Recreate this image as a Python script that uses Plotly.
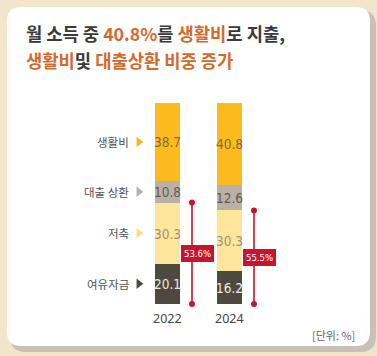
import plotly.graph_objects as go

# ---- data ----
years = ["2022", "2024"]
series_names = ["여유자금", "저축", "대출 상환", "생활비"]
spare = [20.1, 16.2]
savings = [30.3, 30.3]
loan = [10.8, 12.6]
living = [38.7, 40.8]
ratio_labels = ["53.6%", "55.5%"]
unit_label = "[단위: %]"
title_line1 = ("월 소득 중 <span style='color:#d4692b'>40.8%</span>를 "
               "<span style='color:#d4692b'>생활비</span>로 지출,")
title_line2 = ("<span style='color:#d4692b'>생활비</span>및 "
               "<span style='color:#d4692b'>대출상환 비중 증가</span>")

# ---- styles ----
W, H = 377, 356
bar_colors = {"여유자금": "#4d493f", "저축": "#fee59c", "대출 상환": "#b9b1a6", "생활비": "#fbbb1f"}
tri_colors = {"여유자금": "#4d493f", "저축": "#fddc86", "대출 상환": "#b9b1a6", "생활비": "#fbb51f"}
text_colors = {"여유자금": "#ebe7de", "저축": "#a39371", "대출 상환": "#615b52", "생활비": "#85693a"}
RED = "#c8142c"
NUM_FONT = "DejaVu Sans Condensed, Liberation Sans Narrow, Roboto, sans-serif"
KR_FONT = "Noto Sans CJK KR, Noto Sans, sans-serif"

series_values = {"여유자금": spare, "저축": savings, "대출 상환": loan, "생활비": living}
idx = list(range(len(years)))

# pixel mapping helpers (layout only)
PX_PER_X = 62.0
X0_PX = 167.5
PX_PER_Y = 201.0 / 99.9
Y0_PX = 304.0
xr = [-X0_PX / PX_PER_X, (W - X0_PX) / PX_PER_X]
yr = [-(H - Y0_PX) / PX_PER_Y, Y0_PX / PX_PER_Y]

fig = go.Figure()

for name in series_names:
    vals = series_values[name]
    fig.add_trace(go.Bar(
        x=idx, y=vals, name=name, width=25 / PX_PER_X,
        marker=dict(color=bar_colors[name], line=dict(width=0)),
        text=[f"{v:.1f}" for v in vals], textposition="inside", textangle=0,
        insidetextanchor="middle", constraintext="none",
        textfont=dict(family=NUM_FONT, size=13.5, color=text_colors[name]),
        hoverinfo="skip", showlegend=False,
    ))

# red range lines (savings + spare)
off = 0.395
for i in idx:
    top = savings[i] + spare[i]
    fig.add_trace(go.Scatter(
        x=[i + off, i + off], y=[0, top], mode="lines+markers",
        line=dict(color=RED, width=1.6), marker=dict(color=RED, size=6),
        hoverinfo="skip", showlegend=False,
    ))
    fig.add_annotation(
        x=i + off, y=top / 2, xshift=6, text=ratio_labels[i], showarrow=False,
        font=dict(family=NUM_FONT, size=9.5, color="white"),
        bgcolor=RED, bordercolor=RED, borderwidth=1, borderpad=2,
    )

# category labels with triangles (aligned to 2022 segments)
cum = 0
for name in series_names:
    v = series_values[name][0]
    center = cum + v / 2
    cum += v
    fig.add_annotation(
        x=0, y=center, xshift=-36.5, xanchor="right", text=name, showarrow=False,
        font=dict(family=KR_FONT, size=11.5, color="#505050"),
    )
    fig.add_trace(go.Scatter(
        x=[-28.7 / PX_PER_X], y=[center], mode="markers",
        marker=dict(symbol="triangle-right", size=9, color=tri_colors[name]),
        hoverinfo="skip", showlegend=False,
    ))

# year labels
for i in idx:
    fig.add_annotation(
        x=i, y=0, yanchor="top", yshift=-4, text=years[i], showarrow=False,
        font=dict(family="Noto Sans, sans-serif", size=12.5, color="#444444"),
    )

# unit label
fig.add_annotation(
    xref="paper", yref="paper", x=357 / W, y=1 - 335 / H, xanchor="right", yanchor="middle",
    text=unit_label, showarrow=False, font=dict(family=KR_FONT, size=11, color="#666666"),
)

# titles
fig.add_annotation(
    xref="paper", yref="paper", x=24 / W, y=1 - 33 / H, xanchor="left", yanchor="middle",
    text=f"<b>{title_line1}</b>", showarrow=False,
    font=dict(family=KR_FONT, size=17.7, color="#3a3a3a"),
)
fig.add_annotation(
    xref="paper", yref="paper", x=24 / W, y=1 - 60 / H, xanchor="left", yanchor="middle",
    text=f"<b>{title_line2}</b>", showarrow=False,
    font=dict(family=KR_FONT, size=17.7, color="#3a3a3a"),
)


def rounded(x0, y0, x1, y1, r):
    def P(x, y):
        return f"{x / W:.5f},{1 - y / H:.5f}"
    return (f"M {P(x0 + r, y0)} L {P(x1 - r, y0)} Q {P(x1, y0)} {P(x1, y0 + r)} "
            f"L {P(x1, y1 - r)} Q {P(x1, y1)} {P(x1 - r, y1)} L {P(x0 + r, y1)} "
            f"Q {P(x0, y1)} {P(x0, y1 - r)} L {P(x0, y0 + r)} Q {P(x0, y0)} {P(x0 + r, y0)} Z")


fig.add_shape(type="path", xref="paper", yref="paper", path=rounded(10, 10, 376, 352, 16),
              fillcolor="#c9c1b5", line=dict(width=0), layer="below")
fig.add_shape(type="path", xref="paper", yref="paper", path=rounded(7, 7, 370, 346, 14),
              fillcolor="white", line=dict(width=0), layer="below")

fig.update_layout(
    width=W, height=H, margin=dict(l=0, r=0, t=0, b=0),
    paper_bgcolor="#f3e5cb", plot_bgcolor="rgba(0,0,0,0)",
    barmode="stack", bargap=0,
    xaxis=dict(range=xr, visible=False, fixedrange=True),
    yaxis=dict(range=yr, visible=False, fixedrange=True),
    showlegend=False,
)

fig.write_html(
    "out.html",
    config={"displayModeBar": False},
    post_script="document.body.style.margin='0';document.body.style.overflow='hidden';",
)
